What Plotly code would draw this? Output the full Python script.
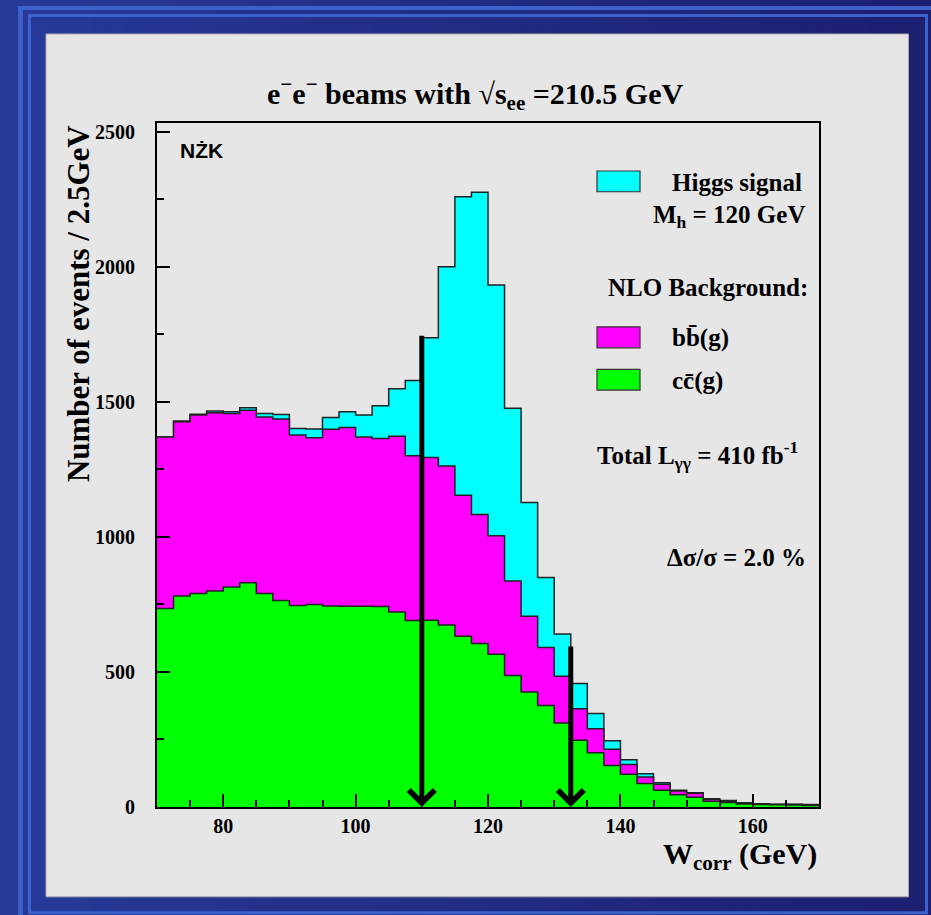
import numpy as np
import plotly.graph_objects as go

# W_corr binning: 40 bins of 2.5 GeV from 70 to 170 GeV
bin_lo, bin_hi, bin_w = 70.0, 170.0, 2.5

# Events per bin for each contribution
cc_events = [735, 781, 790, 800, 814, 830, 790, 764, 746, 750,
             744, 743, 743, 742, 722, 690, 691, 674, 632, 605,
             565, 487, 426, 376, 311, 247, 201, 154, 121, 87,
             62, 45, 36, 21, 17, 11, 9, 8, 7, 6]
bb_events = [635, 645, 661, 659, 643, 639, 654, 672, 631, 617,
             654, 662, 627, 622, 650, 610, 603, 588, 522, 478,
             439, 350, 280, 214, 173, 117, 89, 60, 36, 24,
             22, 14, 15, 8, 4, 3, 2, 1, 2, 2]
higgs_events = [0, 3, 3, 7, 6, 9, 13, 17, 24, 32,
                44, 58, 81, 121, 176, 279, 443, 738, 1105, 1193,
                928, 639, 421, 260, 156, 93, 56, 31, 18, 12,
                6, 3, 2, 2, 3, 2, 1, 1, 1, 1]

# Mass window cuts (GeV) and the heights of their arrows (events)
cut_positions = [110.0, 132.5]
cut_arrow_tops = [1750, 600]

x_ticks = [80, 100, 120, 140, 160]
y_ticks = [0, 500, 1000, 1500, 2000, 2500]

# ---------------------------------------------------------------------------
W, H = 931, 915
PL, PR, PT, PB = 157, 819, 123, 806.7          # plot frame in pixels
Y_TOP = 2532


def px(x):
    return (x - PL) / (PR - PL)


def py(y):
    return (PB - y) / (PB - PT)


edges = np.arange(bin_lo, bin_hi + bin_w / 2, bin_w)
cc = np.array(cc_events, dtype=float)
bb = np.array(bb_events, dtype=float)
hg = np.array(higgs_events, dtype=float)

layers = [
    (cc + bb + hg, "#00ffff", "Higgs signal"),
    (cc + bb, "#ff00ff", "bb(g)"),
    (cc, "#00ff00", "cc(g)"),
]

fig = go.Figure()
for top, colour, name in layers:
    yy = np.append(top, top[-1])
    fig.add_trace(go.Scatter(
        x=edges, y=yy, mode="lines", line_shape="hv",
        line=dict(color="#222222", width=1.5),
        fill="tozeroy", fillcolor=colour, name=name,
        hoverinfo="skip", showlegend=False,
    ))

SERIF = "Liberation Serif"
SANS = "Liberation Sans"

shapes = []
# page background: horizontal blue gradient
n_strip = 60
c0 = np.array([39, 58, 152])
c1 = np.array([29, 31, 113])
for i in range(n_strip):
    t = i / (n_strip - 1)
    c = (c0 + (c1 - c0) * t).astype(int)
    x0 = i * W / n_strip
    x1 = (i + 1) * W / n_strip + 1
    shapes.append(dict(type="rect", xref="paper", yref="paper",
                       x0=px(x0), x1=px(x1), y0=py(H), y1=py(0),
                       fillcolor=f"rgb({c[0]},{c[1]},{c[2]})",
                       line=dict(width=0), layer="below"))

stripe = "rgb(58,98,202)"
# outer light stripes (left and top)
shapes.append(dict(type="rect", xref="paper", yref="paper",
                   x0=px(18), x1=px(23), y0=py(H), y1=py(6),
                   fillcolor=stripe, line=dict(width=0), layer="below"))
shapes.append(dict(type="rect", xref="paper", yref="paper",
                   x0=px(18), x1=px(W), y0=py(10), y1=py(6),
                   fillcolor=stripe, line=dict(width=0), layer="below"))
# inner light frame
shapes.append(dict(type="rect", xref="paper", yref="paper",
                   x0=px(29.5), x1=px(926.5), y0=py(912.5), y1=py(15.5),
                   fillcolor="rgba(0,0,0,0)", line=dict(width=3, color=stripe),
                   layer="below"))
# light grey panel
shapes.append(dict(type="rect", xref="paper", yref="paper",
                   x0=px(46), x1=px(908.5), y0=py(896.5), y1=py(34),
                   fillcolor="#e6e6e6", line=dict(width=1, color="#a8a8a8"),
                   layer="below"))

# legend swatches
for (y0, y1), colour in zip([(171, 191.7), (326.7, 347.7), (369.3, 390)],
                            ["#00ffff", "#ff00ff", "#00ff00"]):
    shapes.append(dict(type="rect", xref="paper", yref="paper",
                       x0=px(597), x1=px(640), y0=py(y1), y1=py(y0),
                       fillcolor=colour, line=dict(width=1.2, color="#333333"),
                       layer="above"))

annotations = []


def label(text, x, y, size, xanchor="center", yanchor="middle",
          family=SERIF, angle=0):
    annotations.append(dict(
        text=text, xref="paper", yref="paper", x=px(x), y=py(y),
        xanchor=xanchor, yanchor=yanchor, showarrow=False, textangle=angle,
        font=dict(family=family, size=size, color="black", weight="bold"),
    ))


label("e<sup>\u2212</sup>e<sup>\u2212</sup> beams with \u221as<sub>ee</sub> =210.5 GeV",
      475, 94, 30)
label("Number of events / 2.5GeV", 78, 304, 31, angle=-90)
label("W<sub>corr</sub> (GeV)", 819, 856, 30, xanchor="right")
label("N\u017bK", 178, 150, 21, xanchor="left", family=SANS)

label("Higgs signal", 670, 182, 25, xanchor="left")
label("M<sub>h</sub> = 120 GeV", 807, 216, 25, xanchor="right")
label("NLO Background:", 810, 287, 25, xanchor="right")
label("bb\u0304(g)", 670, 338, 25, xanchor="left")
label("cc\u0304(g)", 670, 381, 25, xanchor="left")
label("Total L<sub>\u03b3\u03b3</sub> = 410 fb<sup>-1</sup>", 800, 455, 25, xanchor="right")
label("\u0394\u03c3/\u03c3 = 2.0 %", 808, 557, 25, xanchor="right")

# cut arrows
for xc, top in zip(cut_positions, cut_arrow_tops):
    annotations.append(dict(
        x=xc, y=0, ax=xc, ay=top, xref="x", yref="y", axref="x", ayref="y",
        text="", showarrow=True, arrowhead=4, arrowsize=1.0,
        arrowwidth=5, arrowcolor="black", standoff=0,
    ))

axis_common = dict(
    showline=True, linewidth=2, linecolor="black", mirror=True,
    ticks="inside", ticklen=13, tickwidth=1.5, tickcolor="black",
    showgrid=False, zeroline=False,
    tickfont=dict(family=SERIF, size=20, color="black", weight="bold"),
)

fig.update_layout(
    width=W, height=H,
    margin=dict(l=PL, r=W - PR, t=PT, b=H - PB),
    paper_bgcolor="rgb(33,44,132)",
    plot_bgcolor="#e6e6e6",
    shapes=shapes,
    annotations=annotations,
    xaxis=dict(range=[bin_lo, bin_hi], tickvals=x_ticks,
               minor=dict(dtick=5, ticklen=7, ticks="inside", tickcolor="black", tickwidth=1.5),
               ticklabelstandoff=0, **axis_common),
    yaxis=dict(range=[0, Y_TOP], tickvals=y_ticks,
               minor=dict(dtick=250, ticklen=7, ticks="inside", tickcolor="black", tickwidth=1.5),
               ticklabelstandoff=16, **axis_common),
    showlegend=False,
)

fig.write_html("out.html")
